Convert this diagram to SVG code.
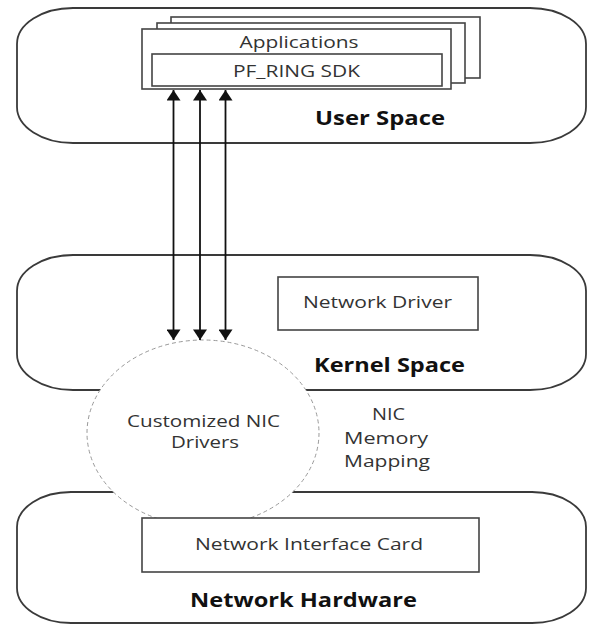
<svg xmlns="http://www.w3.org/2000/svg" width="589" height="625" viewBox="0 0 589 625">
<style>
.layer{fill:#fff;stroke:#3a3a3a;stroke-width:1.8}
.box{fill:#fff;stroke:#444;stroke-width:1.6}
.t{font-family:"Open Sans","Liberation Sans",sans-serif;font-size:16px;fill:#333;text-anchor:middle}
.b{font-family:"Open Sans","Liberation Sans",sans-serif;font-size:19px;font-weight:bold;fill:#111;text-anchor:middle}
.arr{stroke:#111;stroke-width:1.8;fill:none;marker-start:url(#ah);marker-end:url(#ah)}
</style>
<defs>
<marker id="ah" markerUnits="userSpaceOnUse" markerWidth="16" markerHeight="14" viewBox="0 0 12 16" refX="12" refY="8" orient="auto-start-reverse">
<path d="M0,0 L12,8 L0,16 Z" fill="#111"/>
</marker>
</defs>
<rect width="589" height="625" fill="#fff"/>
<g id="user-space">
<rect class="layer" x="17" y="8" width="569" height="135" rx="56" ry="36"/>
<text class="b" x="380" y="125" textLength="130" lengthAdjust="spacingAndGlyphs">User Space</text>
</g>
<g id="kernel-space">
<rect class="layer" x="17" y="255" width="569" height="135" rx="56" ry="36"/>
<text class="b" x="389.5" y="372" textLength="151" lengthAdjust="spacingAndGlyphs">Kernel Space</text>
</g>
<g id="network-hardware">
<rect class="layer" x="17" y="492" width="569" height="131" rx="54" ry="35"/>
<text class="b" x="303.5" y="607" textLength="227" lengthAdjust="spacingAndGlyphs">Network Hardware</text>
</g>
<g id="applications">
<rect class="box" x="171" y="17" width="309" height="61"/>
<rect class="box" x="157" y="23" width="308" height="60"/>
<rect class="box" x="142" y="29" width="309" height="60"/>
<text class="t" x="299" y="48" textLength="119" lengthAdjust="spacingAndGlyphs">Applications</text>
</g>
<g id="pf-ring-sdk">
<rect class="box" x="152" y="54" width="290" height="32"/>
<text class="t" x="296.5" y="77" textLength="127" lengthAdjust="spacingAndGlyphs">PF_RING SDK</text>
</g>
<g id="network-driver">
<rect class="box" x="278" y="277" width="200" height="53"/>
<text class="t" x="377.5" y="308" textLength="149" lengthAdjust="spacingAndGlyphs">Network Driver</text>
</g>
<g id="customized-nic-drivers">
<ellipse cx="203" cy="433" rx="116" ry="93" fill="#fff" stroke="#999" stroke-width="1" stroke-dasharray="4,3"/>
<text class="t" x="203.5" y="427" textLength="153" lengthAdjust="spacingAndGlyphs">Customized NIC</text>
<text class="t" x="205" y="448" textLength="68" lengthAdjust="spacingAndGlyphs">Drivers</text>
</g>
<g id="network-interface-card">
<rect class="box" x="142" y="518" width="337" height="54"/>
<text class="t" x="309" y="550" textLength="228" lengthAdjust="spacingAndGlyphs">Network Interface Card</text>
</g>
<g id="nic-memory-mapping">
<text class="t" x="388.5" y="420" textLength="33" lengthAdjust="spacingAndGlyphs">NIC</text>
<text class="t" x="386" y="444" textLength="84" lengthAdjust="spacingAndGlyphs">Memory</text>
<text class="t" x="387" y="467" textLength="86" lengthAdjust="spacingAndGlyphs">Mapping</text>
</g>
<g id="connectors">
<line class="arr" x1="173.5" y1="90" x2="173.5" y2="340"/>
<line class="arr" x1="200" y1="90" x2="200" y2="340"/>
<line class="arr" x1="225.5" y1="90" x2="225.5" y2="340"/>
</g>
</svg>
